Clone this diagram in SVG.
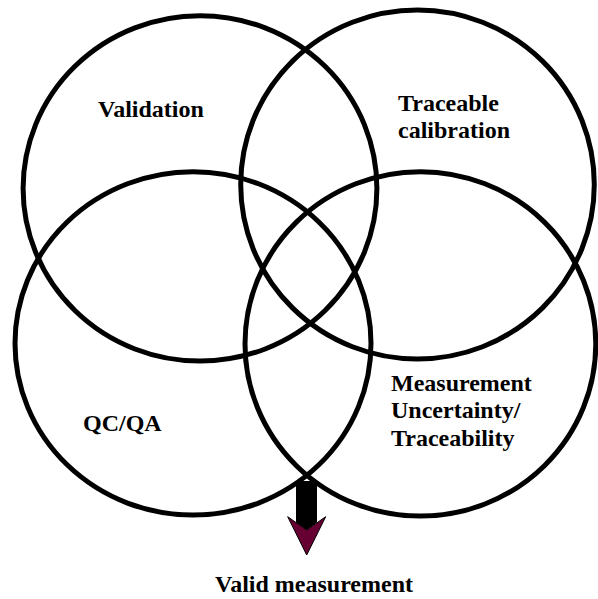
<svg xmlns="http://www.w3.org/2000/svg" width="598" height="599" viewBox="0 0 598 599">
<style>
.c{fill:none;stroke:#000;stroke-width:5}
.t{font-family:"Liberation Serif","Times New Roman",serif;font-weight:bold;font-size:24px;fill:#000}
</style>
<rect width="598" height="599" fill="#fff"/>
<g id="validation">
<ellipse class="c" cx="200" cy="188.4" rx="176.9" ry="172.7"/>
<text class="t" x="98" y="117">Validation</text>
</g>
<g id="traceable-calibration">
<ellipse class="c" cx="417.5" cy="184.5" rx="176.8" ry="174.5"/>
<text class="t" x="398" y="111">Traceable</text>
<text class="t" x="398" y="138">calibration</text>
</g>
<g id="qcqa">
<ellipse class="c" cx="193" cy="343.4" rx="178" ry="171.7"/>
<text class="t" x="83" y="431">QC/QA</text>
</g>
<g id="measurement-uncertainty">
<ellipse class="c" cx="420.4" cy="343.9" rx="175.4" ry="172.2"/>
<text class="t" x="391" y="391">Measurement</text>
<text class="t" x="391" y="418">Uncertainty/</text>
<text class="t" x="391" y="446">Traceability</text>
</g>
<g id="connectors">
<polygon points="296,481 317,481 317,522.5 306.7,530 296,522.5" fill="#000"/>
<polygon points="287.7,516.7 306.7,530 325.7,516.7 306.7,555" fill="#660033" stroke="#000" stroke-width="1" stroke-linejoin="miter"/>
</g>
<g id="valid-measurement">
<text class="t" x="215" y="592">Valid measurement</text>
</g>
</svg>
